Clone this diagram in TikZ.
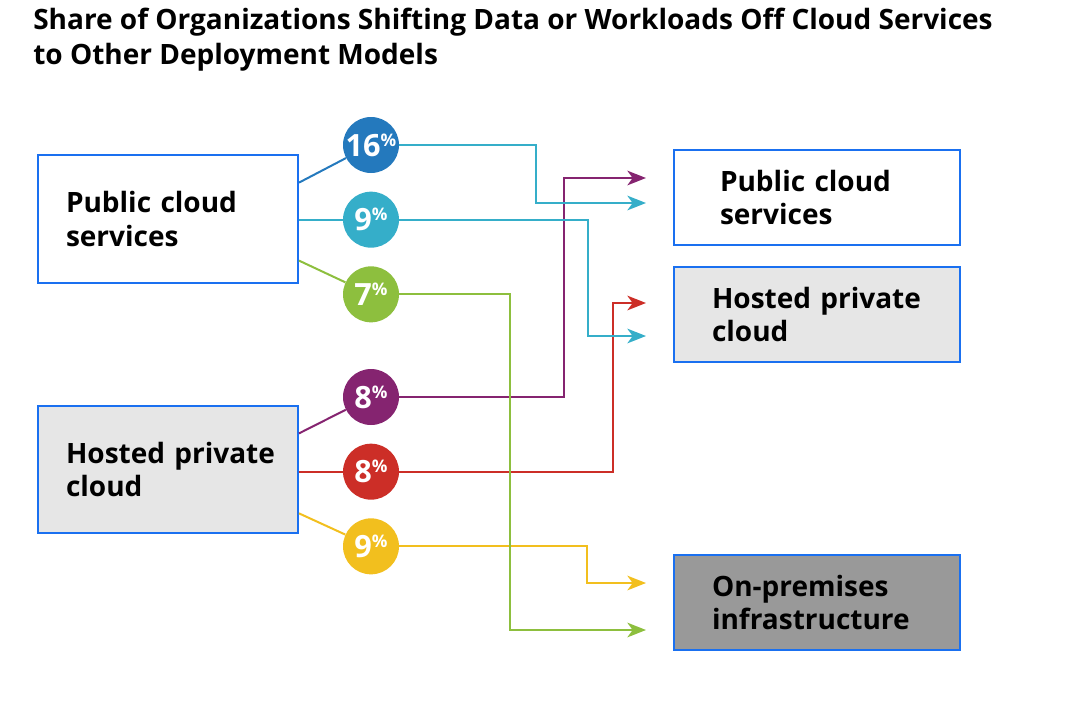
\documentclass[tikz,border=0pt]{standalone}
\usepackage{fontspec}
\setmainfont{Open Sans}
\usetikzlibrary{arrows.meta,calc}

\definecolor{boxblue}{HTML}{1A70F0}
\definecolor{lightfill}{HTML}{E6E6E6}
\definecolor{darkfill}{HTML}{999999}
\definecolor{blueshare}{HTML}{2479BD}
\definecolor{cyanshare}{HTML}{35AEC9}
\definecolor{greenshare}{HTML}{8DBF3E}
\definecolor{purpleshare}{HTML}{852470}
\definecolor{redshare}{HTML}{CC2E27}
\definecolor{yellowshare}{HTML}{F2BF1E}

\tikzstyle{block} = [rectangle, draw=boxblue, line width=1.5pt, minimum width=195pt, minimum height=96pt, text width=153pt, align=left, inner sep=0pt, font=\fontsize{21}{25}\selectfont\bfseries]
\tikzstyle{target} = [block, minimum width=214.5pt, minimum height=71.25pt, text width=157.5pt]
\tikzstyle{share} = [circle, minimum size=42pt, inner sep=0pt, text=white, font=\fontsize{23}{23}\selectfont\bfseries]
\tikzstyle{link} = [draw, line width=1.5pt]
\tikzstyle{line} = [draw, line width=1.5pt, -{Stealth[length=14pt, width=11pt, inset=4pt]}]

\newcommand{\pctlabel}[1]{#1\raisebox{7.5pt}{\fontsize{13}{13}\selectfont\%}}

\begin{document}
\begin{tikzpicture}[x=0.75pt, y=-0.75pt, node distance=56pt]
  \useasboundingbox (0,0) rectangle (1088,704);

  \node [anchor=north west, inner sep=0pt, align=left, font=\fontsize{21}{26}\selectfont\bfseries] (title) at (33,8)
    {Share of Organizations Shifting Data or Workloads Off Cloud Services\\to Other Deployment Models};

  % sources
  \node [block] (pubsrc) at (168,219) {\mbox{Public cloud}\\services};
  \node [block, fill=lightfill, minimum height=95.25pt] (hostsrc) at (168,469.5) {\mbox{Hosted private}\\cloud};

  % destinations
  \node [target, text width=145.5pt] (pubdst) at (817,197.5) {\mbox{Public cloud}\\services};
  \node [target, fill=lightfill] (hostdst) at (817,314.5) {\mbox{Hosted private}\\cloud};
  \node [target, fill=darkfill] (onprem) at (817,602.5) {On-premises\\infrastructure};

  % shares
  \node [share, fill=blueshare] (c16) at (371,145) {\pctlabel{16}};
  \node [share, fill=cyanshare, below of=c16] (c9) {\pctlabel{9}};
  \node [share, fill=greenshare, below of=c9] (c7) {\pctlabel{7}};
  \node [share, fill=purpleshare] (c8p) at (371,397) {\pctlabel{8}};
  \node [share, fill=redshare, below of=c8p] (c8r) {\pctlabel{8}};
  \node [share, fill=yellowshare, below of=c8r] (c9y) {\pctlabel{9}};

  \coordinate (end8p) at (646,178);
  \coordinate (end16) at (646,203);
  \coordinate (end8r) at (646,303);
  \coordinate (end9) at (646,336);
  \coordinate (end9y) at (646,583);
  \coordinate (end7) at (646,630);

  \path [link, blueshare] ($(pubsrc.north east)!0.22!(pubsrc.south east)$) -- (c16);
  \path [link, cyanshare] (c9 -| pubsrc.east) -- (c9);
  \path [link, greenshare] ($(pubsrc.north east)!0.82!(pubsrc.south east)$) -- (c7);
  \path [link, purpleshare] ($(hostsrc.north east)!0.22!(hostsrc.south east)$) -- (c8p);
  \path [link, redshare] (c8r -| hostsrc.east) -- (c8r);
  \path [link, yellowshare] ($(hostsrc.north east)!0.84!(hostsrc.south east)$) -- (c9y);

  \path [line, purpleshare] (c8p.east) -- ++(165,0) |- (end8p);
  \path [line, redshare] (c8r.east) -- ++(214,0) |- (end8r);
  \path [line, yellowshare] (c9y.east) -- ++(188,0) |- (end9y);
  \path [line, cyanshare] (c16.east) -- ++(137,0) |- (end16);
  \path [line, cyanshare] (c9.east) -- ++(189,0) |- (end9);
  \path [line, greenshare] (c7.east) -- ++(111,0) |- (end7);
\end{tikzpicture}
\end{document}
